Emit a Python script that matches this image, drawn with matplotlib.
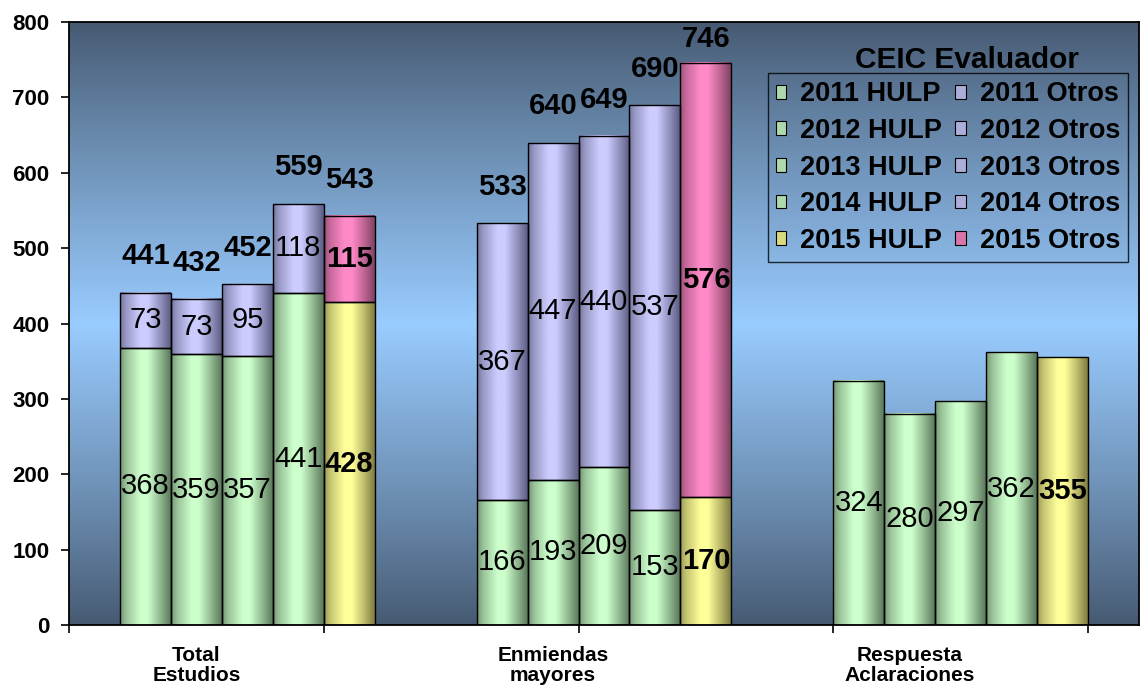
import numpy as np
import matplotlib.pyplot as plt
from matplotlib.patches import Patch

plt.rcParams['font.family'] = ['Liberation Sans', 'DejaVu Sans']

# data
groups = ['Total\nEstudios', 'Enmiendas\nmayores', 'Respuesta\nAclaraciones']
years = ['2011', '2012', '2013', '2014', '2015']
hulp_total = [368, 359, 357, 441, 428]
otros_total = [73, 73, 95, 118, 115]
hulp_enm = [166, 193, 209, 153, 170]
otros_enm = [367, 447, 440, 537, 576]
hulp_resp = [324, 280, 297, 362, 355]

# colours (light centre, dark edge) for the cylinder-like shading
GREEN = ((204, 255, 204), (84, 112, 84))
LAV = ((204, 204, 255), (86, 86, 124))
YELLOW = ((255, 255, 153), (120, 116, 60))
PINK = ((255, 138, 200), (122, 62, 94))


def grad(light, dark, n=64):
    t = np.linspace(0, 1, n)
    p = np.interp(t, [0, 0.12, 0.4, 0.55, 0.8, 1], [0.28, 0.58, 1, 1, 0.5, 0.06])
    light = np.array(light) / 255.0
    dark = np.array(dark) / 255.0
    return (dark + (light - dark) * p[:, None])[None, :, :]


def shaded_bars(ax, x, h, bottom, colors):
    bars = ax.bar(x, h, width=1.0, bottom=bottom, align='center',
                  facecolor='none', edgecolor='black', linewidth=1.0, zorder=3)
    for b, c in zip(bars, colors):
        x0, y0, w, hh = b.get_x(), b.get_y(), b.get_width(), b.get_height()
        ax.imshow(grad(*c), extent=[x0, x0 + w, y0, y0 + hh], aspect='auto',
                  interpolation='bilinear', zorder=2)
    return bars


def labels_inside(ax, bars, vals):
    for i, (b, v) in enumerate(zip(bars, vals)):
        ax.text(b.get_x() + b.get_width() / 2, b.get_y() + b.get_height() / 2, str(v),
                ha='center', va='center', fontsize=21,
                fontweight='bold' if i == 4 else 'normal', zorder=5)


fig = plt.figure(figsize=(11.45, 6.88), dpi=100)
ax = fig.add_axes([69 / 1145, 63 / 688, 1070 / 1145, 603 / 688])

# background: dark at top and bottom, light blue in the middle
s = np.linspace(0, 1, 256)[:, None]
w = (1 - np.abs(2 * s - 1)) ** 0.9
top = np.array([70, 89, 113]) / 255.0
mid = np.array([153, 204, 255]) / 255.0
bg = (top + (mid - top) * w)[:, None, :]
ax.imshow(bg, extent=[0, 1, 0, 1], transform=ax.transAxes, aspect='auto',
          interpolation='bilinear', zorder=0)

hulp_cols = [GREEN] * 4 + [YELLOW]
otros_cols = [LAV] * 4 + [PINK]
starts = [1, 8, 15]

for g, (hv, ov) in enumerate([(hulp_total, otros_total), (hulp_enm, otros_enm), (hulp_resp, None)]):
    xs = [starts[g] + i + 0.5 for i in range(5)]
    hb = shaded_bars(ax, xs, hv, 0, hulp_cols)
    labels_inside(ax, hb, hv)
    if ov is not None:
        ob = shaded_bars(ax, xs, ov, hv, otros_cols)
        labels_inside(ax, ob, ov)
        for x, a, b in zip(xs, hv, ov):
            tot = a + b
            ax.text(x, min(tot + 48, 778), str(tot), ha='center', va='center',
                    fontsize=21, fontweight='bold', zorder=5)

ax.set_xlim(0, 21)
ax.set_ylim(0, 800)

ax.set_yticks(range(0, 801, 100))
ax.set_yticklabels([str(v) for v in range(0, 801, 100)], fontsize=16, fontweight='bold')
ax.tick_params(axis='y', direction='out', length=6, width=1.2, pad=8)

ax.set_xticks([0, 5, 10, 15, 20])
ax.set_xticklabels([])
ax.tick_params(axis='x', which='major', direction='out', length=6, width=1.2)
ax.set_xticks([2.5, 9.5, 16.5], minor=True)
ax.set_xticklabels(groups, minor=True, fontsize=15, fontweight='bold', linespacing=1.05)
ax.tick_params(axis='x', which='minor', length=0, pad=15)

for sp in ax.spines.values():
    sp.set_color('black')
    sp.set_linewidth(1.3)

handles = [Patch(facecolor=np.array(c[0]) / 255 * 0.85, edgecolor='black', linewidth=0.8)
           for c in hulp_cols + otros_cols]
names = [y + ' HULP' for y in years] + [y + ' Otros' for y in years]
leg = ax.legend(handles, names, ncol=2, loc='upper right', bbox_to_anchor=(0.990, 0.915),
                borderaxespad=0, frameon=True, fancybox=False, edgecolor='black',
                prop={'weight': 'bold', 'size': 19.5}, handlelength=0.4, handleheight=0.4,
                handletextpad=0.5, columnspacing=0.5, labelspacing=0.39, borderpad=0.3)
leg.get_frame().set_facecolor('none')
leg.get_frame().set_linewidth(1.0)
leg.set_zorder(6)
ax.text(0.839, 0.937, 'CEIC Evaluador', transform=ax.transAxes, ha='center', va='center',
        fontsize=21.5, fontweight='bold', zorder=6)

fig.savefig('out.png', dpi=100)
